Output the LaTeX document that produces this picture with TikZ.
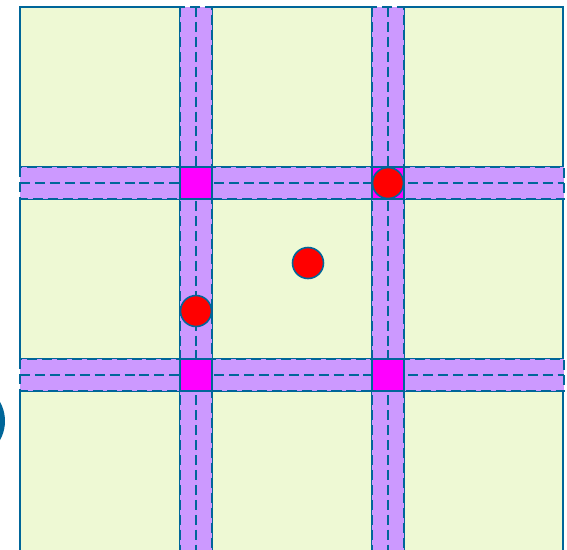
\documentclass[tikz,border=0pt]{standalone}
\definecolor{cellfill}{HTML}{EEF9D4}
\definecolor{stripfill}{HTML}{CC99FF}
\definecolor{edgeblue}{HTML}{006699}
\definecolor{crossfill}{HTML}{FF00FF}
\tikzset{
  cell/.style={fill=cellfill, draw=edgeblue, line width=1.3pt},
  strip/.style={fill=stripfill, draw=edgeblue, line width=1.3pt, dash pattern=on 5.7pt off 2.8pt},
  midline/.style={draw=edgeblue, line width=1.3pt, dash pattern=on 5.7pt off 2.8pt},
  cross/.style={rectangle, fill=crossfill, draw=edgeblue, line width=1.3pt, minimum size=0.64cm, inner sep=0pt},
  dot/.style={circle, fill=red, draw=edgeblue, line width=0.9pt, minimum size=0.62cm, inner sep=0pt}
}
\begin{document}
\begin{tikzpicture}[x=0.02cm, y=-0.02cm]
    \useasboundingbox (0,0) rectangle (567,549);
    \clip (0,0) rectangle (567,549);

    % cells
    \path[cell] (20,7) rectangle (180,167);
    \path[cell] (212,7) rectangle (372,167);
    \path[cell] (404,7) rectangle (563,167);
    \path[cell] (20,199) rectangle (180,359);
    \path[cell] (212,199) rectangle (372,359);
    \path[cell] (404,199) rectangle (563,359);
    \path[cell] (20,391) rectangle (180,560);
    \path[cell] (212,391) rectangle (372,560);
    \path[cell] (404,391) rectangle (563,560);

    % horizontal strips
    \path[strip] (20,167) rectangle (564,199);
    \draw[midline] (20,183) -- (564,183);
    \path[strip] (20,359) rectangle (564,391);
    \draw[midline] (20,375) -- (564,375);

    % vertical strips
    \path[strip] (180,7) rectangle (212,560);
    \draw[midline] (196,7) -- (196,560);
    \path[strip] (372,7) rectangle (404,560);
    \draw[midline] (388,7) -- (388,560);

    % crossings
    \node[cross] (cross11) at (196,183) {};
    \node[cross] (cross12) at (388,183) {};
    \node[cross] (cross21) at (196,375) {};
    \node[cross] (cross22) at (388,375) {};

    % points
    \node[dot] (dotA) at (388,183) {};
    \node[dot] (dotB) at (308,263) {};
    \node[dot] (dotC) at (196,311) {};

    % cut-off mark on the left
    \node[circle, fill=edgeblue, minimum size=1.56cm, inner sep=0pt] (mark) at (-34,421) {};
\end{tikzpicture}
\end{document}
